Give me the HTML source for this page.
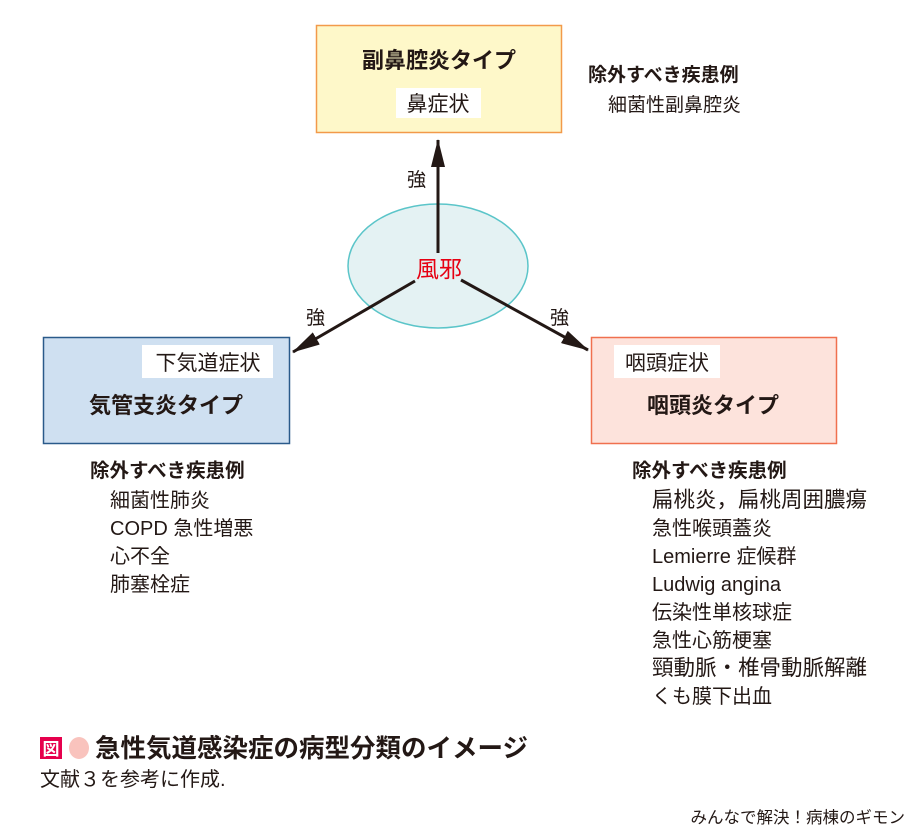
<!DOCTYPE html>
<html><head><meta charset="utf-8"><style>
body{margin:0;background:#fff;}
svg{display:block}
text{font-family:"Liberation Sans","Noto Sans CJK JP",sans-serif;fill:#231815}
.b{font-weight:bold}
</style></head><body>
<svg width="913" height="837" viewBox="0 0 913 837" xmlns="http://www.w3.org/2000/svg">
<defs>
<marker id="ah2" markerWidth="28" markerHeight="14" refX="27" refY="7" orient="auto" markerUnits="userSpaceOnUse"><path d="M0,0 L28,7 L0,14z" fill="#231815"/></marker></defs>
<rect x="316.5" y="25.5" width="245" height="107" fill="#fef8c9" stroke="#f29a4a" stroke-width="1.5"/>
<text x="439" y="68" font-size="22" class="b" text-anchor="middle">副鼻腔炎タイプ</text>
<rect x="396" y="88" width="85" height="30" fill="#fff"/>
<text x="438" y="111" font-size="21" text-anchor="middle">鼻症状</text>
<text x="588" y="81" font-size="19" class="b">除外すべき疾患例</text>
<text x="608" y="111" font-size="19">細菌性副鼻腔炎</text>
<ellipse cx="438" cy="266" rx="90" ry="62" fill="#e4f2f3" stroke="#5bc5c9" stroke-width="1.5"/>
<line x1="438" y1="253" x2="438" y2="140" stroke="#231815" stroke-width="3" marker-end="url(#ah2)"/>
<line x1="415" y1="281" x2="293" y2="352" stroke="#231815" stroke-width="3" marker-end="url(#ah2)"/>
<line x1="461" y1="280" x2="588" y2="350" stroke="#231815" stroke-width="3" marker-end="url(#ah2)"/>
<text x="439" y="277" font-size="23" text-anchor="middle" style="fill:#e60012">風邪</text>
<text x="407" y="186" font-size="19">強</text>
<text x="306" y="324" font-size="19">強</text>
<text x="550" y="324" font-size="19">強</text>
<rect x="43.5" y="337.5" width="246" height="106" fill="#cfe0f1" stroke="#2a5a8a" stroke-width="1.5"/>
<rect x="142" y="345" width="131" height="33" fill="#fff"/>
<text x="208" y="370" font-size="21" text-anchor="middle">下気道症状</text>
<text x="166" y="413" font-size="22" class="b" text-anchor="middle">気管支炎タイプ</text>
<rect x="591.5" y="337.5" width="245" height="106" fill="#fde3dc" stroke="#f0704f" stroke-width="1.5"/>
<rect x="614" y="345" width="106" height="33" fill="#fff"/>
<text x="667" y="370" font-size="21" text-anchor="middle">咽頭症状</text>
<text x="713" y="413" font-size="22" class="b" text-anchor="middle">咽頭炎タイプ</text>
<g font-size="20">
<text x="90" y="477" class="b" font-size="19.5">除外すべき疾患例</text>
<text x="110" y="507">細菌性肺炎</text>
<text x="110" y="535">COPD 急性増悪</text>
<text x="110" y="563">心不全</text>
<text x="110" y="591">肺塞栓症</text>
<text x="632" y="477" class="b" font-size="19.5">除外すべき疾患例</text>
<text x="652" y="507" font-size="21.5">扁桃炎，扁桃周囲膿瘍</text>
<text x="652" y="535">急性喉頭蓋炎</text>
<text x="652" y="563">Lemierre 症候群</text>
<text x="652" y="591">Ludwig angina</text>
<text x="652" y="619">伝染性単核球症</text>
<text x="652" y="647">急性心筋梗塞</text>
<text x="652" y="675" font-size="21.5">頸動脈・椎骨動脈解離</text>
<text x="652" y="703">くも膜下出血</text>
</g>
<rect x="40" y="737" width="22" height="22" fill="#e6004d"/>
<text x="51" y="755" font-size="17" text-anchor="middle" class="b" style="fill:#fff">図</text>
<ellipse cx="79" cy="748" rx="10" ry="11" fill="#f9c3bd"/>
<text x="95" y="757" font-size="25.5" class="b">急性気道感染症の病型分類のイメージ</text>
<text x="40" y="786" font-size="20">文献３を参考に作成.</text>
<text x="905" y="823" font-size="16.5" text-anchor="end">みんなで解決！病棟のギモン</text>
</svg>
</body></html>
